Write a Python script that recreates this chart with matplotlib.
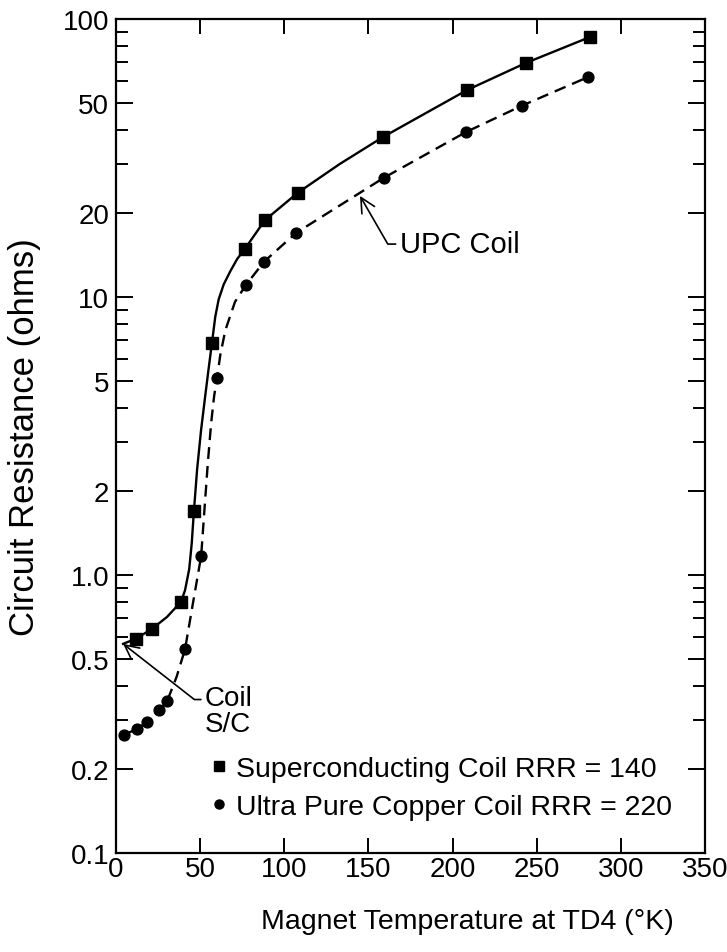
import matplotlib
matplotlib.use("Agg")
import matplotlib.pyplot as plt
from matplotlib.lines import Line2D
from matplotlib.ticker import FixedLocator, FixedFormatter, NullFormatter

plt.rcParams['font.family'] = ['Liberation Sans Narrow', 'Liberation Sans', 'DejaVu Sans']

# superconducting coil, measured points
sc_t = [12, 21.4, 38.6, 46.3, 57, 76.6, 88.5, 108, 158.6, 208.6, 243.6, 281.6]
sc_r = [0.59, 0.64, 0.80, 1.70, 6.83, 14.9, 18.9, 23.7, 37.6, 55.5, 69.5, 86.1]
# ultra pure copper coil, measured points
upc_t = [4.8, 12.3, 18.2, 25.8, 30.5, 41, 50.6, 60, 77, 88, 107, 159, 208, 241, 280.5]
upc_r = [0.266, 0.279, 0.295, 0.327, 0.353, 0.54, 1.17, 5.1, 11.0, 13.4, 17.0, 26.8, 39.2, 48.7, 61.8]

# hand drawn curves
sc_curve_t = [4.2, 12, 21.4, 30.3, 38.6, 41, 43.5, 45, 46.3, 48.2, 50.5, 53, 55, 57, 59, 61,
              64, 68, 72, 76.6, 88.5, 108, 133, 158.6, 208.6, 243.6, 281.6]
sc_curve_r = [0.565, 0.59, 0.64, 0.706, 0.80, 0.88, 1.05, 1.3, 1.70, 2.4, 3.3, 4.4, 5.5, 6.83, 8.5, 9.8,
              11.1, 12.4, 13.7, 14.9, 18.9, 23.7, 30.1, 37.6, 55.5, 69.5, 86.1]
upc_curve_t = [4.8, 12.3, 18.2, 25.8, 30.5, 36, 41, 45.7, 50.6, 52.5, 54.5, 56.5, 58.3, 60, 62,
               65, 70.7, 77, 88, 107, 159, 208, 241, 280.5]
upc_curve_r = [0.266, 0.279, 0.295, 0.327, 0.353, 0.43, 0.54, 0.79, 1.17, 1.7, 2.5, 3.5, 4.4, 5.1, 6.2,
               7.6, 9.6, 11.0, 13.4, 17.0, 26.8, 39.2, 48.7, 61.8]

x_ticks = [0, 50, 100, 150, 200, 250, 300, 350]
y_ticks = [0.1, 0.2, 0.5, 1, 2, 5, 10, 20, 50, 100]
y_labels = ['0.1', '0.2', '0.5', '1.0', '2', '5', '10', '20', '50', '100']
y_minor = [0.3, 0.4, 0.6, 0.7, 0.8, 0.9, 3, 4, 6, 7, 8, 9, 30, 40, 60, 70, 80, 90]

fig = plt.figure(figsize=(7.27, 9.53), dpi=100)
ax = fig.add_axes([0.1596, 0.104, 0.810, 0.875])

ax.plot(sc_curve_t, sc_curve_r, color='black', lw=1.7)
ax.plot(upc_curve_t, upc_curve_r, color='black', lw=1.7, ls=(0, (5, 3)))
ax.plot(sc_t, sc_r, ls='none', marker='s', ms=9, color='black')
ax.plot(upc_t, upc_r, ls='none', marker='o', ms=7.8, color='black')

ax.set_yscale('log')
ax.set_xlim(0, 350)
ax.set_ylim(0.1, 100)
ax.xaxis.set_major_locator(FixedLocator(x_ticks))
ax.yaxis.set_major_locator(FixedLocator(y_ticks))
ax.yaxis.set_major_formatter(FixedFormatter(y_labels))
ax.yaxis.set_minor_locator(FixedLocator(y_minor))
ax.yaxis.set_minor_formatter(NullFormatter())

ax.tick_params(axis='both', which='both', direction='in', top=True, right=True, width=1.4, labelsize=20)
ax.tick_params(axis='x', which='major', length=11, pad=2)
ax.tick_params(axis='y', which='major', length=12, pad=5)
ax.tick_params(axis='y', which='minor', length=8.5)
for s in ax.spines.values():
    s.set_linewidth(1.6)

ax.set_xlabel('Magnet Temperature at TD4 (°K)', fontsize=20.5)
ax.xaxis.set_label_coords(0.596, -0.066)
ax.xaxis.label.set_va('top')
ax.set_ylabel('Circuit Resistance (ohms)', fontsize=25)
ax.yaxis.set_label_coords(-0.127, 0.5)

ax.annotate('UPC Coil', xy=(145, 23.1), xytext=(168.7, 15.5), fontsize=21, ha='left', va='center',
            arrowprops=dict(arrowstyle='->,head_length=0.5,head_width=0.25', color='black', lw=1.2,
                            connectionstyle='angle,angleA=0,angleB=120,rad=0', shrinkA=1, shrinkB=0))
ax.annotate('Coil\nS/C', xy=(4.2, 0.565), xytext=(52.9, 0.324), fontsize=20, ha='left', va='center',
            linespacing=1.0,
            arrowprops=dict(arrowstyle='->,head_length=0.5,head_width=0.25', color='black', lw=1.2,
                            connectionstyle='angle,angleA=0,angleB=142,rad=0', shrinkA=1, shrinkB=0,
                            relpos=(0, 0.72)))

handles = [Line2D([], [], ls='none', marker='s', ms=6.5, color='black'),
           Line2D([], [], ls='none', marker='o', ms=6.5, color='black')]
ax.legend(handles, ['Superconducting Coil RRR = 140', 'Ultra Pure Copper Coil RRR = 220'],
          loc='lower left', bbox_to_anchor=(0.16, 0.04), frameon=False, fontsize=20.5,
          handlelength=0.6, handletextpad=0.3, labelspacing=0.4, borderpad=0, borderaxespad=0)

fig.savefig('out.png', dpi=100)
